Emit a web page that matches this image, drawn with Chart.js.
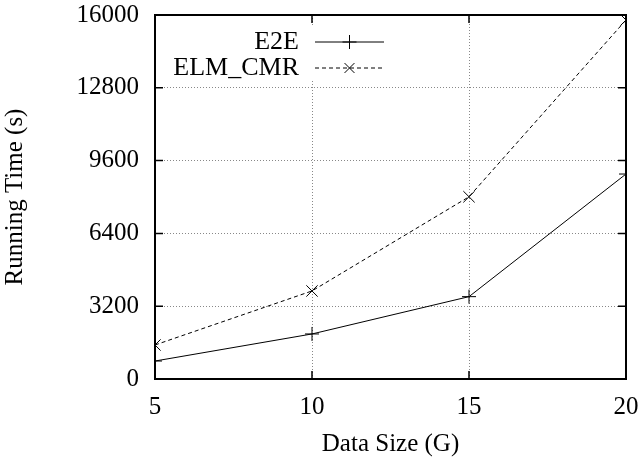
<!DOCTYPE html>
<html>
<head>
<meta charset="UTF-8">
<title>Running Time vs Data Size</title>
<script src="https://cdn.jsdelivr.net/npm/chart.js"></script>
<style>
    html, body { margin: 0; padding: 0; background: #fff; }
    #wrap { width: 643px; height: 463px; }
</style>
</head>
<body>
<div id="wrap"><canvas id="runChart" width="643" height="463"></canvas></div>
<script>
    // data
    const dataSizes = [5, 10, 15, 20];
    const e2eTimes = [790, 1980, 3620, 9010];
    const elmCmrTimes = [1495, 3870, 8010, 15780];
    const yTicks = [0, 3200, 6400, 9600, 12800, 16000];

    const FONT = "'Liberation Serif', 'Times New Roman', serif";

    // gnuplot-ish frame, inward ticks and keyed legend
    const framePlugin = {
        id: "frame",
        afterDatasetsDraw(chart) {
            const ctx = chart.ctx;
            const a = chart.chartArea;
            const xs = chart.scales.x, ys = chart.scales.y;
            ctx.save();

            // legend box first so the frame stays on top
            const rows = chart.data.datasets;
            const textRight = 299, lineL = 315, lineR = 384;
            ctx.fillStyle = "#fff";
            ctx.fillRect(160, 26, 232, 54);
            ctx.font = "26px " + FONT;
            ctx.textAlign = "right";
            ctx.textBaseline = "middle";
            rows.forEach((ds, i) => {
                const y = 42 + i * 26;
                ctx.fillStyle = "#000";
                ctx.fillText(ds.label, textRight, y);
                ctx.strokeStyle = "#000";
                ctx.lineWidth = 1;
                ctx.setLineDash(ds.borderDash || []);
                ctx.beginPath();
                ctx.moveTo(lineL, y); ctx.lineTo(lineR, y);
                ctx.stroke();
                ctx.setLineDash([]);
                const cx = (lineL + lineR) / 2, r = 7;
                ctx.beginPath();
                if (ds.pointStyle === "cross") {
                    ctx.moveTo(cx - r, y); ctx.lineTo(cx + r, y);
                    ctx.moveTo(cx, y - r); ctx.lineTo(cx, y + r);
                } else {
                    const d = r * 0.7071;
                    ctx.moveTo(cx - d, y - d); ctx.lineTo(cx + d, y + d);
                    ctx.moveTo(cx - d, y + d); ctx.lineTo(cx + d, y - d);
                }
                ctx.stroke();
            });

            ctx.strokeStyle = "#000";
            ctx.lineWidth = 1.5;
            ctx.beginPath();
            yTicks.forEach(v => {
                const py = ys.getPixelForValue(v);
                ctx.moveTo(a.left, py); ctx.lineTo(a.left + 8, py);
                ctx.moveTo(a.right, py); ctx.lineTo(a.right - 8, py);
            });
            dataSizes.forEach(v => {
                const px = xs.getPixelForValue(v);
                ctx.moveTo(px, a.bottom); ctx.lineTo(px, a.bottom - 8);
                ctx.moveTo(px, a.top); ctx.lineTo(px, a.top + 8);
            });
            ctx.stroke();
            ctx.lineWidth = 2;
            ctx.strokeRect(a.left, a.top, a.right - a.left, a.bottom - a.top);
            ctx.restore();
        }
    };

    new Chart(document.getElementById("runChart"), {
        type: "line",
        data: {
            datasets: [{
                label: "E2E",
                data: dataSizes.map((x, i) => ({ x: x, y: e2eTimes[i] })),
                borderColor: "#000",
                borderWidth: 1,
                pointStyle: "cross",
                pointRadius: 7,
                pointBorderWidth: 1,
                pointBorderColor: "#000",
                fill: false,
                tension: 0
            }, {
                label: "ELM_CMR",
                data: dataSizes.map((x, i) => ({ x: x, y: elmCmrTimes[i] })),
                borderColor: "#000",
                borderWidth: 1,
                borderDash: [4, 3],
                pointStyle: "crossRot",
                pointRadius: 8,
                pointBorderWidth: 1,
                pointBorderColor: "#000",
                fill: false,
                tension: 0
            }]
        },
        options: {
            responsive: false,
            animation: false,
            layout: { padding: { top: 15, right: 17, left: 0, bottom: 0 } },
            plugins: { legend: { display: false }, tooltip: { enabled: false } },
            scales: {
                x: {
                    type: "linear",
                    min: 5, max: 20,
                    afterFit(scale) {
                        scale.height = 84;
                        scale.paddingLeft = 0;
                        scale.paddingRight = 0;
                    },
                    afterBuildTicks(scale) { scale.ticks = dataSizes.map(v => ({ value: v })); },
                    grid: { color: "#888", lineWidth: 1, drawTicks: false },
                    border: { display: false, dash: [1, 2] },
                    ticks: { color: "#000", padding: 13, font: { family: FONT, size: 25 }, callback: v => String(v) },
                    title: { display: true, text: "Data Size (G)", color: "#000", font: { family: FONT, size: 25 }, padding: { top: 4, bottom: 4 } }
                },
                y: {
                    min: 0, max: 16000,
                    afterFit(scale) {
                        scale.width = 155;
                        scale.paddingTop = 0;
                        scale.paddingBottom = 0;
                    },
                    afterBuildTicks(scale) { scale.ticks = yTicks.map(v => ({ value: v })); },
                    grid: { color: "#888", lineWidth: 1, drawTicks: false },
                    border: { display: false, dash: [1, 2] },
                    ticks: { color: "#000", padding: 16, font: { family: FONT, size: 25 }, callback: v => String(v) },
                    title: { display: true, text: "Running Time (s)", color: "#000", font: { family: FONT, size: 25 }, padding: { bottom: 0, top: 0 } }
                }
            }
        },
        plugins: [framePlugin]
    });
</script>
</body>
</html>
